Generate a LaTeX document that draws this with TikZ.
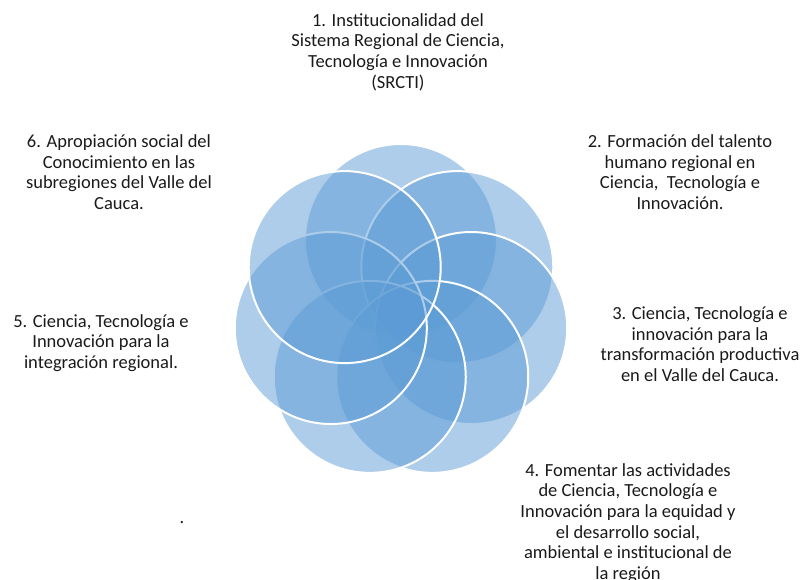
\documentclass[tikz,border=0pt]{standalone}
\usepackage{fontspec}
\setmainfont{Carlito}
\definecolor{accent}{HTML}{5B9BD5}
\definecolor{txt}{HTML}{1A1A1A}
\begin{document}
\begin{tikzpicture}[x=1pt,y=-1pt,
  ring/.style={circle, minimum size=192pt, inner sep=0pt, fill=accent, fill opacity=0.5, draw=white, line width=2pt},
  lbl/.style={align=center, text=txt, inner sep=0pt, font=\fontsize{18.5}{20.7}\selectfont}]
\useasboundingbox (0,0) rectangle (803,580);
\foreach \k in {0,...,6}{
  \pgfmathsetmacro{\ang}{90-\k*360/7}
  \node[ring] (c\k) at ({401+72*cos(\ang)},{312-72*sin(\ang)}) {};
}
\node[lbl] (l1) at (398,52) {1. Institucionalidad del\\Sistema Regional de Ciencia,\\Tecnología e Innovación\\(SRCTI)};
\node[lbl] (l2) at (680,172) {2. Formación del talento\\humano regional en\\Ciencia,\ \ Tecnología e\\Innovación.};
\node[lbl] (l3) at (700,344) {3. Ciencia, Tecnología e\\innovación para la\\transformación productiva\\en el Valle del Cauca.};
\node[lbl] (l4) at (628,523) {4. Fomentar las actividades\\de Ciencia, Tecnología e\\Innovación para la equidad y\\el desarrollo social,\\ambiental e institucional de\\la región};
\node[lbl] (l5) at (101,343) {5. Ciencia, Tecnología e\\Innovación para la\\integración regional.};
\node[lbl] (l6) at (119,172) {6. Apropiación social del\\Conocimiento en las\\subregiones del Valle del\\Cauca.};
\node[lbl] (dot) at (182,523) {.};
\end{tikzpicture}
\end{document}
